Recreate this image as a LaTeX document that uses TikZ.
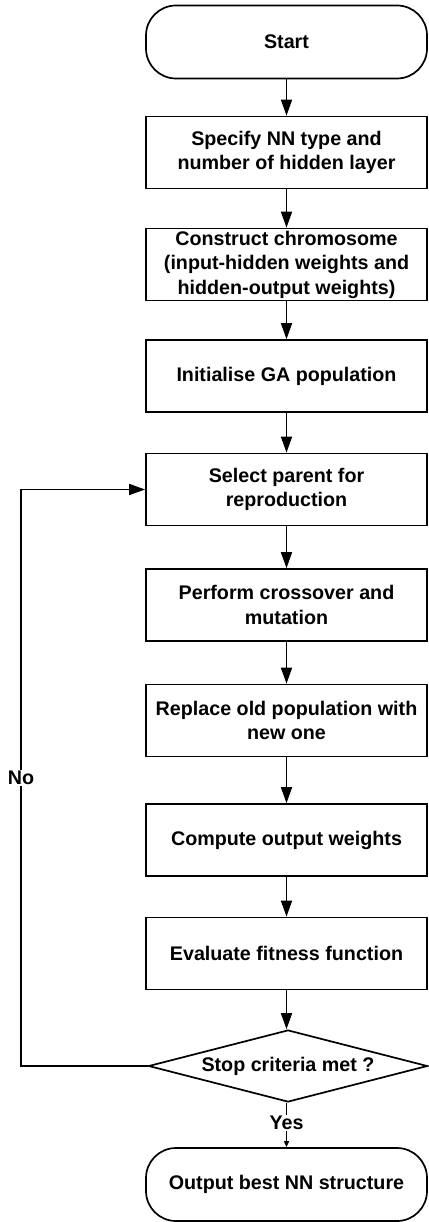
\documentclass[tikz,border=0pt]{standalone}
\usepackage{fontspec}
\setmainfont{Liberation Sans}
\usetikzlibrary{shapes.geometric,arrows.meta}
\begin{document}
\begin{tikzpicture}[x=1pt,y=-1pt,
  every node/.style={font=\bfseries\fontsize{19.7}{24.5}\selectfont, align=center},
  stepbox/.style={draw, line width=1.7pt, minimum width=281pt, minimum height=72pt, inner sep=0pt},
  termbox/.style={draw, line width=1.7pt, rounded corners=30pt, minimum width=281pt, minimum height=73pt, inner sep=0pt},
  decbox/.style={draw, diamond, line width=1.7pt, aspect=3.9, minimum width=279pt, minimum height=72pt, inner sep=0pt},
  arr/.style={line width=1.7pt, -{Triangle[length=16pt,width=11pt]}},
  lbl/.style={fill=white, inner sep=1pt}
]
\useasboundingbox (0,0) rectangle (428,1222);
\node[termbox] (start) at (286.5,42) {Start};
\node[stepbox] (b1) at (286.5,152.5) {Specify NN type and\\number of hidden layer};
\node[stepbox] (b2) at (286.5,264.5) {Construct chromosome\\(input-hidden weights and\\hidden-output weights)};
\node[stepbox] (b3) at (286.5,376) {Initialise GA population};
\node[stepbox] (b4) at (286.5,489.5) {Select parent for\\reproduction};
\node[stepbox] (b5) at (286.5,605) {Perform crossover and\\mutation};
\node[stepbox] (b6) at (286.5,720.5) {Replace old population with\\new one};
\node[stepbox] (b7) at (286.5,840) {Compute output weights};
\node[stepbox] (b8) at (286.5,953.5) {Evaluate fitness function};
\node[decbox] (d) at (288,1066) {Stop criteria met ?};
\node[termbox] (out) at (286.5,1184.5) {Output best NN structure};
\coordinate (lp) at (21,1066);
\draw[arr] (start) -- (b1);
\draw[arr] (b1) -- (b2);
\draw[arr] (b2) -- (b3);
\draw[arr] (b3) -- (b4);
\draw[arr] (b4) -- (b5);
\draw[arr] (b5) -- (b6);
\draw[arr] (b6) -- (b7);
\draw[arr] (b7) -- (b8);
\draw[arr] (b8) -- (b8 |- d.north);
\draw[arr] (d.west) -- (lp) |- node[lbl, pos=0.25] {No} (b4.west);
\draw[line width=1.7pt, -{Triangle[length=6pt,width=5pt]}] (d.south -| out.north) -- node[lbl, pos=0.45] {Yes} (out.north);
\end{tikzpicture}
\end{document}
